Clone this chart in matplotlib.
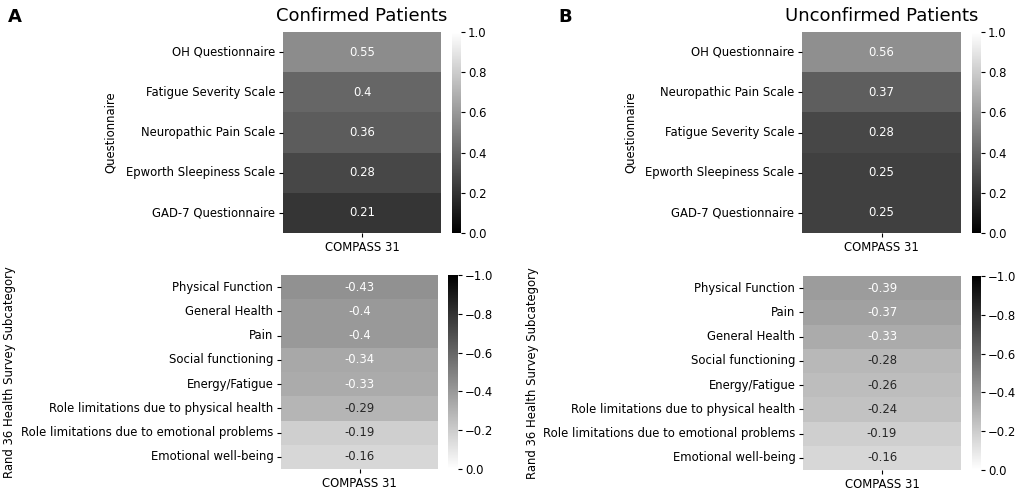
import matplotlib
matplotlib.use("Agg")
import matplotlib.pyplot as plt
import seaborn as sns
import pandas as pd

plt.rcParams['font.family'] = ['DejaVu Sans']
plt.rcParams['font.size'] = 8.4

# panel A - confirmed patients
conf_q_labels = ["OH Questionnaire", "Fatigue Severity Scale", "Neuropathic Pain Scale",
                 "Epworth Sleepiness Scale", "GAD-7 Questionnaire"]
conf_q_values = [0.55, 0.40, 0.36, 0.28, 0.21]
conf_r_labels = ["Physical Function", "General Health", "Pain", "Social functioning",
                 "Energy/Fatigue", "Role limitations due to physical health",
                 "Role limitations due to emotional problems", "Emotional well-being"]
conf_r_values = [-0.43, -0.40, -0.40, -0.34, -0.33, -0.29, -0.19, -0.16]

# panel B - unconfirmed patients
unc_q_labels = ["OH Questionnaire", "Neuropathic Pain Scale", "Fatigue Severity Scale",
                "Epworth Sleepiness Scale", "GAD-7 Questionnaire"]
unc_q_values = [0.56, 0.37, 0.28, 0.25, 0.25]
unc_r_labels = ["Physical Function", "Pain", "General Health", "Social functioning",
                "Energy/Fatigue", "Role limitations due to physical health",
                "Role limitations due to emotional problems", "Emotional well-being"]
unc_r_values = [-0.39, -0.37, -0.33, -0.28, -0.26, -0.24, -0.19, -0.16]

col = "COMPASS 31"

W, H = 1021, 492
fig = plt.figure(figsize=(W / 100, H / 100), dpi=100)


def box(x0, y0, x1, y1):
    return [x0 / W, 1 - y1 / H, (x1 - x0) / W, (y1 - y0) / H]


def draw(ax, cax, labels, values, vmin, vmax, ylabel, invert, label_x):
    df = pd.DataFrame({col: values}, index=labels)
    sns.heatmap(df, ax=ax, cbar_ax=cax, cmap="gray", vmin=vmin, vmax=vmax, annot=True)
    ax.set_ylabel(ylabel)
    # place the y label at a given pixel column (right edge of rotated text)
    pos = ax.get_position()
    ax.yaxis.set_label_coords((label_x / W - pos.x0) / pos.width, 0.5)
    ax.tick_params(axis='y', rotation=0, length=3, pad=2.5)
    ax.tick_params(axis='x', length=3, pad=2.5)
    cax.tick_params(length=3, pad=2)
    if invert:
        cax.invert_yaxis()


# A
ax1 = fig.add_axes(box(283, 32, 441, 233))
cax1 = fig.add_axes(box(452, 32, 461, 233))
draw(ax1, cax1, conf_q_labels, conf_q_values, 0, 1, "Questionnaire", False, 117)
ax1.set_title("Confirmed Patients", fontsize=13, pad=8)

ax2 = fig.add_axes(box(281, 275, 438, 469))
cax2 = fig.add_axes(box(448, 275, 458, 469))
draw(ax2, cax2, conf_r_labels, conf_r_values, -1, 0, "Rand 36 Health Survey Subcategory", True, 16)

# B
ax3 = fig.add_axes(box(802, 32, 961, 233))
cax3 = fig.add_axes(box(972, 32, 981, 233))
draw(ax3, cax3, unc_q_labels, unc_q_values, 0, 1, "Questionnaire", False, 637)
ax3.set_title("Unconfirmed Patients", fontsize=13, pad=8)

ax4 = fig.add_axes(box(803, 276, 961, 470))
cax4 = fig.add_axes(box(972, 276, 981, 470))
draw(ax4, cax4, unc_r_labels, unc_r_values, -1, 0, "Rand 36 Health Survey Subcategory", True, 539)

fig.text(8 / W, 1 - 22 / H, "A", fontsize=13, fontweight="bold")
fig.text(558 / W, 1 - 22 / H, "B", fontsize=13, fontweight="bold")

fig.savefig("out.png", dpi=100)
